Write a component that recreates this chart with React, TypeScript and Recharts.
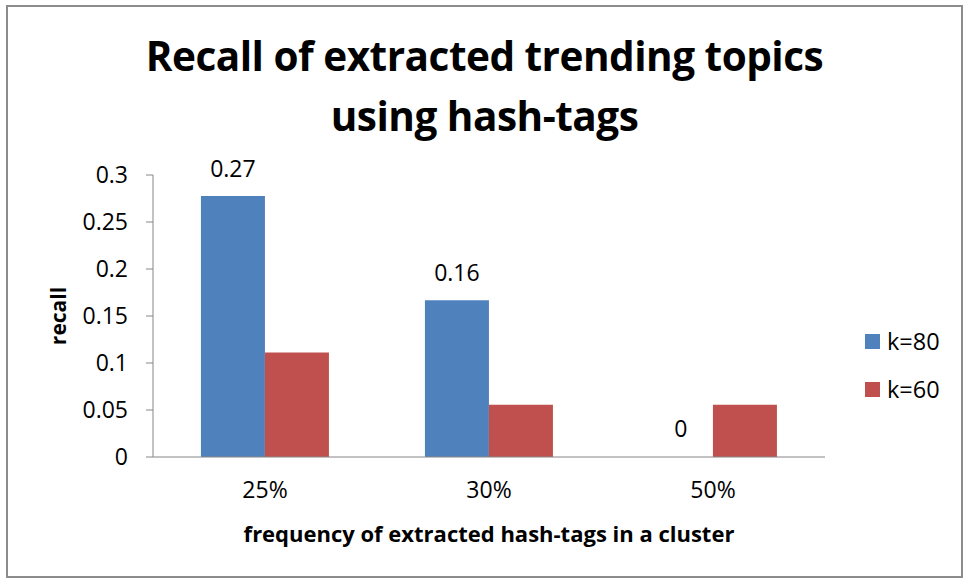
import React from "react";
import { BarChart, Bar, XAxis, YAxis, Cell } from "recharts";

const categories = ["25%", "30%", "50%"];
const k80 = [0.2777, 0.1667, 0];
const k60 = [0.1111, 0.0556, 0.0556];
const k80Labels = ["0.27", "0.16", "0"];
const yTicks = [0, 0.05, 0.1, 0.15, 0.2, 0.25, 0.3];
const seriesNames = ["k=80", "k=60"];
const colors = ["#4F81BD", "#C0504D"];

const data = categories.map((c, i) => ({
  cat: c,
  k80: k80[i],
  k60: k60[i],
  k80Label: k80Labels[i],
}));

const FONT = "'Open Sans', 'Liberation Sans', sans-serif";

const renderTopLabel = (props: any) => {
  const { x, y, width, index } = props;
  const label = k80Labels[index];
  return (
    <text
      key={`lbl-${index}`}
      x={Number(x) + Number(width) / 2}
      y={Number(y) - 19}
      textAnchor="middle"
      fill="#000"
      fontSize={23}
      fontFamily={FONT}
    >
      {label}
    </text>
  );
};

export default function App() {
  return (
    <div
      style={{
        position: "absolute",
        left: 6,
        top: 5,
        width: 957,
        height: 573,
        border: "2px solid #8c8c8c",
        boxSizing: "border-box",
        background: "#fff",
        fontFamily: FONT,
      }}
    >
      <div
        style={{
          position: "absolute",
          left: 0,
          top: 19,
          width: 953,
          textAlign: "center",
          fontSize: 40.5,
          fontWeight: 700,
          lineHeight: "60px",
          color: "#000",
          letterSpacing: -0.5,
        }}
      >
        Recall of extracted trending topics
        <br />
        using hash-tags
      </div>
      <BarChart
        width={953}
        height={569}
        data={data}
        margin={{ top: 168, right: 136, bottom: 59, left: 85 }}
        barCategoryGap="21.4%"
        barGap={0}
      >
        <XAxis
          dataKey="cat"
          height={60}
          tickLine={false}
          axisLine={{ stroke: "#868686" }}
          tick={{ fill: "#000", fontSize: 23, fontFamily: FONT }}
          dy={17}
        />
        <YAxis
          width={60}
          domain={[0, 0.3]}
          ticks={yTicks}
          tickSize={7}
          tickLine={{ stroke: "#868686" }}
          axisLine={{ stroke: "#868686" }}
          tick={{ fill: "#000", fontSize: 23, fontFamily: FONT, dx: -16 }}
          tickFormatter={(v: number) => String(v)}
        />
        <Bar
          dataKey="k80"
          name={seriesNames[0]}
          fill={colors[0]}
          isAnimationActive={false}
          minPointSize={(v: number) => (v === 0 ? 1 : 0)}
          label={renderTopLabel}
        >
          {k80.map((v, i) => (
            <Cell key={i} fill={v === 0 ? "transparent" : colors[0]} />
          ))}
        </Bar>
        <Bar dataKey="k60" name={seriesNames[1]} fill={colors[1]} isAnimationActive={false} />
      </BarChart>
      <div
        style={{
          position: "absolute",
          left: 50 - 100,
          top: 309 - 14,
          width: 200,
          height: 28,
          lineHeight: "28px",
          textAlign: "center",
          transform: "rotate(-90deg)",
          fontSize: 21,
          fontWeight: 700,
          color: "#000",
        }}
      >
        recall
      </div>
      <div
        style={{
          position: "absolute",
          left: 145,
          top: 512,
          width: 672,
          textAlign: "center",
          fontSize: 22,
          fontWeight: 700,
          color: "#000",
          lineHeight: "28px",
        }}
      >
        frequency of extracted hash-tags in a cluster
      </div>
      {seriesNames.map((n, i) => (
        <div
          key={n}
          style={{
            position: "absolute",
            left: 857,
            top: 319 + i * 48,
            height: 30,
            display: "flex",
            alignItems: "center",
            fontSize: 23.5,
            color: "#000",
          }}
        >
          <span
            style={{
              display: "inline-block",
              width: 15,
              height: 15,
              background: colors[i],
              marginRight: 7,
            }}
          />
          {n}
        </div>
      ))}
    </div>
  );
}
